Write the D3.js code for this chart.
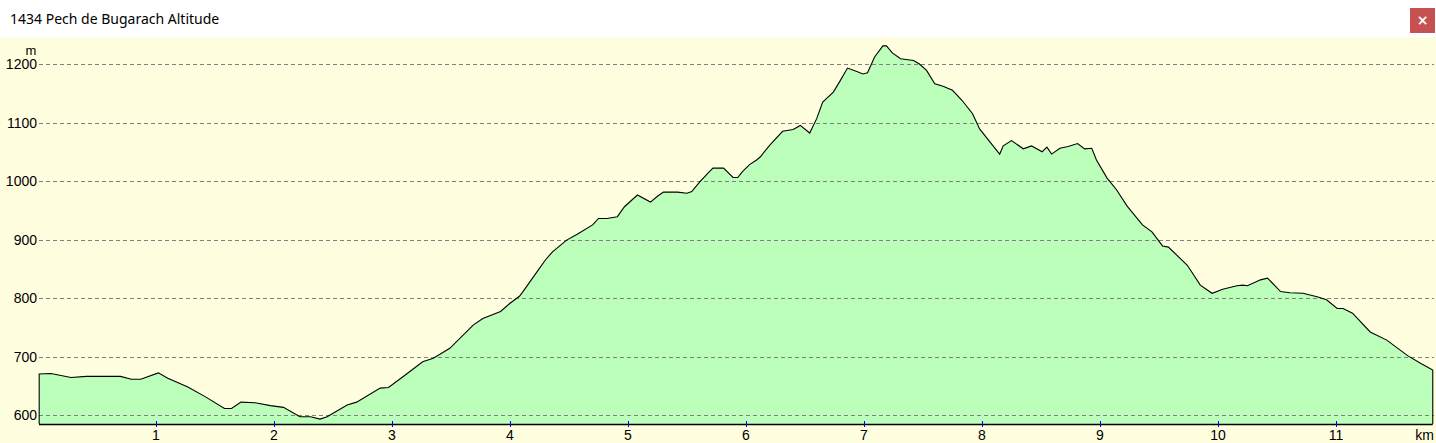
<!DOCTYPE html>
<html><head><meta charset="utf-8">
<script src="https://cdn.jsdelivr.net/npm/d3@7"></script>
<style>html,body{margin:0;padding:0;background:#fff;overflow:hidden}</style>
</head><body>
<svg id="c" width="1436" height="443"></svg>
<script>
const title = "1434 Pech de Bugarach Altitude";
const yTicks = [600, 700, 800, 900, 1000, 1100, 1200];
const xTicks = [1, 2, 3, 4, 5, 6, 7, 8, 9, 10, 11];
const yUnit = "m";
const xUnit = "km";
const distKm = [0.01,0.11,0.28,0.41,0.70,0.79,0.87,1.02,1.10,1.27,1.42,1.58,1.64,1.72,1.84,1.97,2.08,2.22,2.31,2.39,2.45,2.62,2.70,2.90,2.97,3.09,3.26,3.35,3.49,3.69,3.77,3.92,4.00,4.08,4.11,4.23,4.30,4.36,4.48,4.57,4.70,4.75,4.82,4.91,4.97,5.08,5.19,5.25,5.30,5.42,5.50,5.54,5.61,5.69,5.72,5.81,5.89,5.93,5.97,6.03,6.09,6.12,6.20,6.31,6.40,6.46,6.54,6.60,6.65,6.74,6.80,6.86,6.94,6.99,7.03,7.09,7.16,7.19,7.24,7.31,7.42,7.47,7.53,7.60,7.67,7.75,7.83,7.92,7.98,8.07,8.15,8.18,8.25,8.35,8.42,8.51,8.55,8.59,8.66,8.73,8.81,8.87,8.93,8.97,9.06,9.14,9.23,9.36,9.44,9.53,9.58,9.74,9.85,9.95,10.04,10.16,10.21,10.25,10.36,10.42,10.53,10.61,10.72,10.84,10.92,11.01,11.06,11.14,11.29,11.43,11.61,11.72,11.82];
const altitude = [670,671,664,666,666,661,661,672,663,648,631,611,611,622,621,616,613,597,597,593,597,617,622,646,647,665,691,697,714,754,765,777,791,803,811,845,865,879,899,909,925,936,936,939,956,976,964,974,981,981,979,982,999,1016,1022,1022,1006,1006,1016,1028,1036,1041,1061,1085,1088,1095,1082,1107,1135,1152,1172,1193,1187,1183,1185,1212,1231,1231,1219,1209,1206,1200,1189,1166,1162,1155,1138,1115,1089,1066,1046,1060,1069,1055,1060,1050,1058,1046,1056,1059,1064,1055,1056,1036,1005,985,957,925,913,889,887,856,822,808,815,821,822,821,831,834,811,809,808,802,797,782,782,774,742,728,701,688,677];

const svg = d3.select("#c");
const W = 1436, H = 443;
const x = d3.scaleLinear().domain([0, 11]).range([38, 38 + 11 * 118]);
const y = d3.scaleLinear().domain([600, 1200]).range([415, 64]);
const baseY = 424;
const plotL = 39, plotR = 1434;

// title bar
svg.append("rect").attr("x",0).attr("y",0).attr("width",W).attr("height",37).attr("fill","#ffffff");
svg.append("text").attr("x",10).attr("y",24).text(title)
  .attr("font-family","'Noto Sans', 'Open Sans', sans-serif").attr("font-size","14px").attr("fill","#000");
svg.append("rect").attr("x",1410).attr("y",8).attr("width",25).attr("height",25).attr("fill","#c75050");
svg.append("text").attr("x",1422.5).attr("y",25).attr("text-anchor","middle").text("\u00d7")
  .attr("font-family","'DejaVu Sans', sans-serif").attr("font-size","14px").attr("font-weight","bold").attr("fill","#fff");

// chart background
svg.append("rect").attr("x",0).attr("y",37).attr("width",W).attr("height",H-37).attr("fill","#ffffe0");

const data = distKm.map((d,i)=>({d, a: altitude[i]}));

// area
const area = d3.area().x(p=>x(p.d)).y0(baseY).y1(p=>y(p.a));
svg.append("path").datum(data).attr("d", area).attr("fill","#bbffbb");

// gridlines
svg.append("g").selectAll("line").data(yTicks).join("line")
  .attr("x1",plotL).attr("x2",plotR)
  .attr("y1",d=>Math.round(y(d))+0.5).attr("y2",d=>Math.round(y(d))+0.5)
  .attr("stroke","#808080").attr("stroke-dasharray","4,3").attr("stroke-width",1);

// profile outline (closed)
const first = data[0], last = data[data.length-1];
const line = d3.line().x(p=>p[0]).y(p=>p[1]);
const pts = [[x(first.d), baseY], ...data.map(p=>[x(p.d), y(p.a)]), [x(last.d), baseY]];
svg.append("path").attr("d", line(pts)).attr("fill","none").attr("stroke","#000").attr("stroke-width",1.1);

// bottom axis line
svg.append("line").attr("x1",plotL).attr("x2",x(last.d)).attr("y1",baseY+0.5).attr("y2",baseY+0.5)
  .attr("stroke","#000").attr("stroke-width",1.5);

// y labels
const lblFont = "'Liberation Sans', Arial, sans-serif";
svg.append("g").selectAll("text").data(yTicks).join("text")
  .attr("x",37).attr("y",d=>y(d)+5).attr("text-anchor","end")
  .attr("font-family",lblFont).attr("font-size","14px").attr("fill","#000").text(d=>d);
svg.append("text").attr("x",31).attr("y",55).attr("text-anchor","middle")
  .attr("font-family",lblFont).attr("font-size","13px").attr("fill","#000").text(yUnit);

// x ticks & labels
svg.append("g").selectAll("line").data(xTicks).join("line")
  .attr("x1",d=>Math.round(x(d))+0.5).attr("x2",d=>Math.round(x(d))+0.5)
  .attr("y1",421).attr("y2",427).attr("stroke","#0000ff").attr("stroke-width",1);
svg.append("g").selectAll("text").data(xTicks).join("text")
  .attr("x",d=>x(d)).attr("y",440).attr("text-anchor","middle")
  .attr("font-family",lblFont).attr("font-size","14px").attr("fill","#000").text(d=>d);
svg.append("text").attr("x",1434).attr("y",440).attr("text-anchor","end")
  .attr("font-family",lblFont).attr("font-size","14px").attr("fill","#000").text(xUnit);
</script>
</body></html>
